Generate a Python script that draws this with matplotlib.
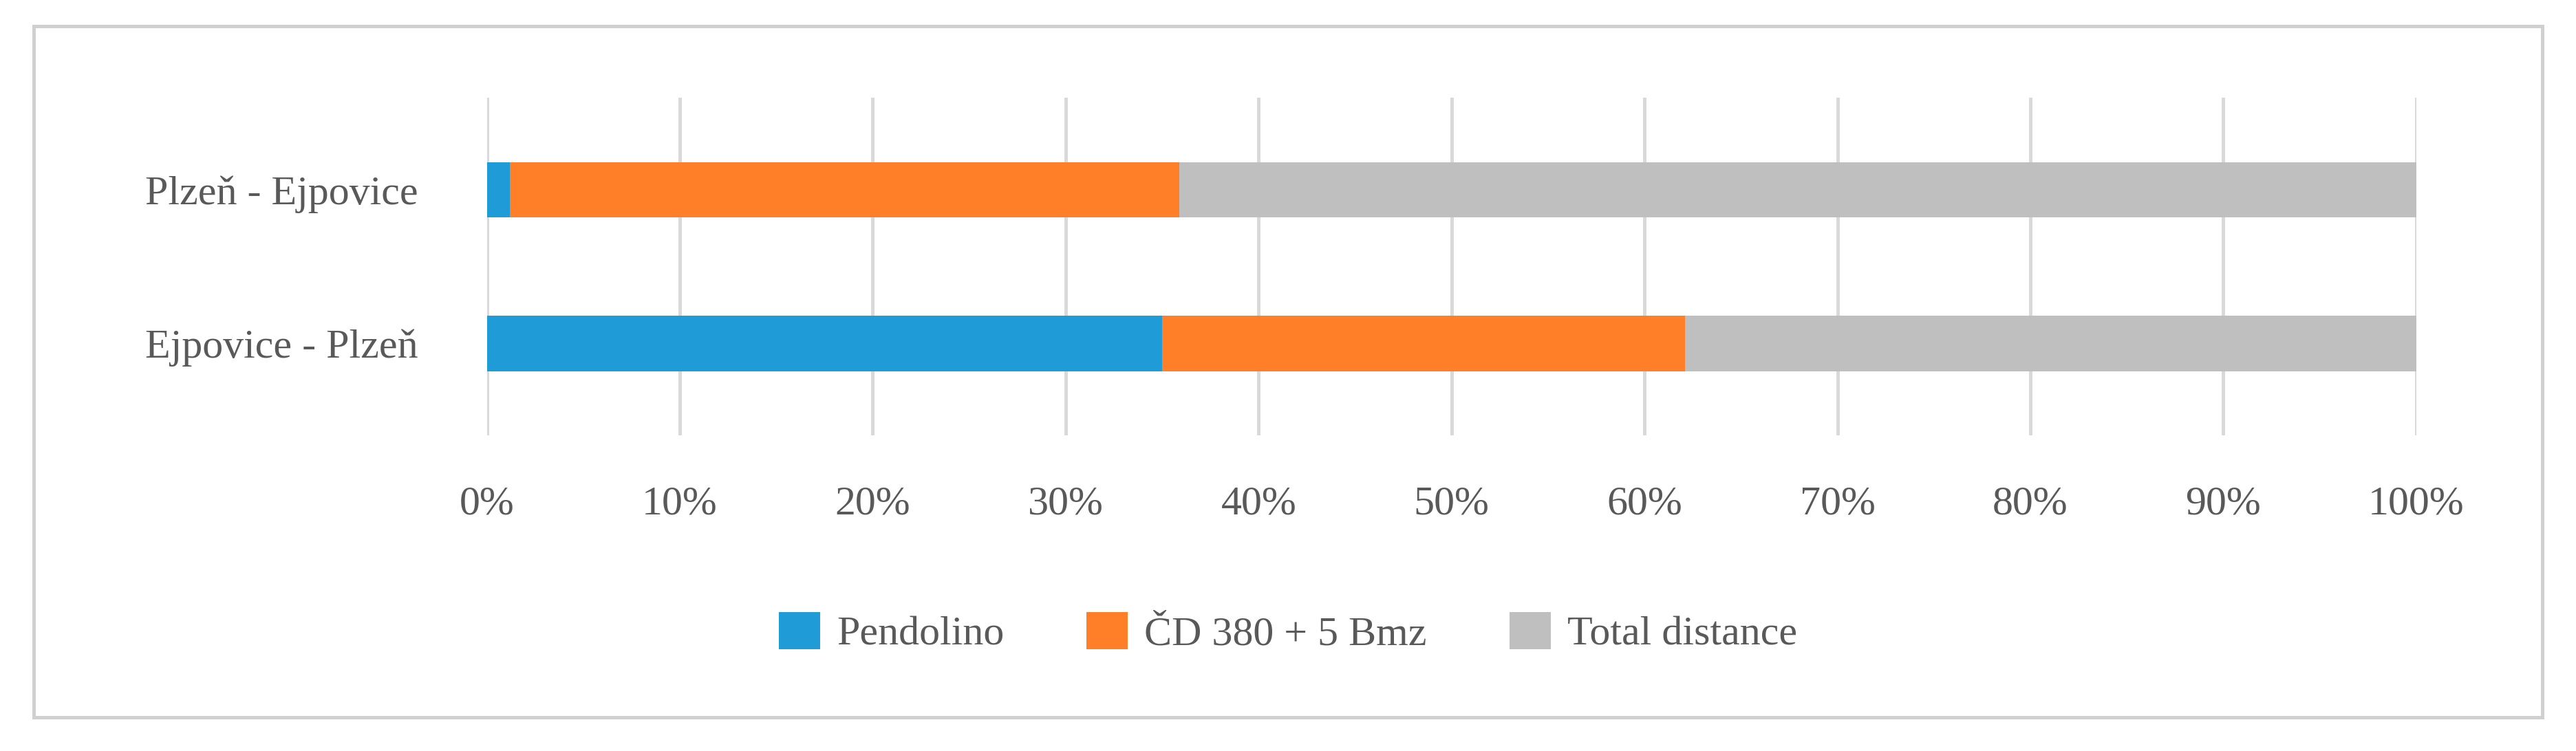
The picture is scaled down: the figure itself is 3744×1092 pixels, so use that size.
import matplotlib
matplotlib.use("Agg")
import matplotlib.pyplot as plt
from matplotlib.patches import Rectangle
from matplotlib.ticker import PercentFormatter

categories = ["Ejpovice - Plzeň", "Plzeň - Ejpovice"]
series = ["Pendolino", "ČD 380 + 5 Bmz", "Total distance"]
pendolino = [35.0, 1.2]
cd380 = [27.1, 34.7]
total = [37.9, 64.1]
colors = ["#1f9bd7", "#fe7f27", "#bfbfbf"]

plt.rcParams.update({"font.family": ["Liberation Serif", "DejaVu Serif"], "font.size": 18})
TXT = "#595959"

fig = plt.figure(figsize=(15.6, 4.55), dpi=240)
fig.patches.append(Rectangle((0.013, 0.045), 0.974, 0.92, transform=fig.transFigure,
                             fill=False, ec="#d0d0d0", lw=1.5))
ax = fig.add_axes([0.189, 0.42, 0.749, 0.45])

y = range(len(categories))
left = [0] * len(categories)
for name, vals, c in zip(series, [pendolino, cd380, total], colors):
    ax.barh(y, vals, left=left, height=0.36, color=c, label=name, zorder=3)
    left = [l + v for l, v in zip(left, vals)]

ax.set_xlim(0, 100)
ax.set_ylim(-0.6, 1.6)
ax.set_xticks(range(0, 101, 10))
ax.xaxis.set_major_formatter(PercentFormatter(decimals=0))
ax.set_yticks(list(y))
ax.set_yticklabels(categories)
ax.tick_params(length=0, colors=TXT, labelsize=18)
ax.tick_params(axis="x", pad=22)
ax.tick_params(axis="y", pad=30)
ax.grid(axis="x", color="#d9d9d9", lw=1.5, zorder=0)
for s in ax.spines.values():
    s.set_visible(False)

fig.legend(loc="center", bbox_to_anchor=(0.5, 0.157), ncol=3, frameon=False,
           fontsize=18, labelcolor=TXT, handlelength=1.0, handleheight=1.0,
           columnspacing=2.0, handletextpad=0.4)
fig.savefig("out.png", dpi=240)
